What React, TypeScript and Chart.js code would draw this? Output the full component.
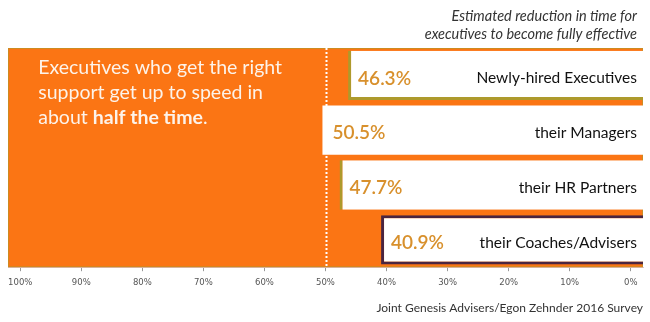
import React, { useEffect, useRef } from "react";
import { Chart, registerables } from "chart.js";

Chart.register(...registerables);

const CATEGORIES = [
  "Newly-hired Executives",
  "their Managers",
  "their HR Partners",
  "their Coaches/Advisers",
];
const REDUCTION = [46.3, 50.5, 47.7, 40.9];
const TICK_VALUES = [100, 90, 80, 70, 60, 50, 40, 30, 20, 10, 0];
const X_MIN = -2;
const X_MAX = 102;
const MARKER = 50;
const TITLE_LINES = ["Estimated reduction in time for", "executives to become fully effective"];
const SOURCE = "Joint Genesis Advisers/Egon Zehnder 2016 Survey";
const CALLOUT = [
  [{ t: "Executives who get the right", b: false }],
  [{ t: "support get up to speed in", b: false }],
  [
    { t: "about ", b: false },
    { t: "half the time", b: true },
    { t: ".", b: false },
  ],
];

const ORANGE = "#fb7514";
const OLIVE = "#ad9a2c";
const DARK = "#4a2540";
const VALUE_COLOR = "#d8902c";
const FONT = "Lato, 'Open Sans', sans-serif";

const BORDER_COLORS = [OLIVE, "rgba(0,0,0,0)", OLIVE, DARK];
const BORDER_WIDTHS = [
  { top: 0, bottom: 3, left: 3, right: 0 },
  { top: 0, bottom: 0, left: 0, right: 0 },
  { top: 0, bottom: 0, left: 3, right: 0 },
  { top: 3, bottom: 3, left: 3, right: 0 },
];

const backgroundPlugin = {
  id: "orangeBg",
  beforeDatasetsDraw(chart: any) {
    const { ctx, chartArea } = chart;
    ctx.save();
    ctx.fillStyle = ORANGE;
    ctx.fillRect(chartArea.left, chartArea.top, chartArea.right - chartArea.left, chartArea.bottom - chartArea.top);
    ctx.strokeStyle = "rgba(173,154,44,0.6)";
    ctx.lineWidth = 1;
    ctx.strokeRect(chartArea.left + 0.5, chartArea.top + 0.5, chartArea.right - chartArea.left - 1, chartArea.bottom - chartArea.top - 1);
    ctx.restore();
  },
};

const overlayPlugin = {
  id: "overlay",
  afterDatasetsDraw(chart: any) {
    const { ctx, chartArea, scales } = chart;
    const xs = scales.x;
    ctx.save();
    // dotted 50% marker
    const mx = Math.round(xs.getPixelForValue(MARKER)) + 0.5;
    ctx.strokeStyle = "#ffffff";
    ctx.lineWidth = 2;
    ctx.setLineDash([2, 2]);
    ctx.beginPath();
    ctx.moveTo(mx, chartArea.top);
    ctx.lineTo(mx, chartArea.bottom);
    ctx.stroke();
    ctx.setLineDash([]);

    // labels in white boxes
    const meta = chart.getDatasetMeta(0);
    meta.data.forEach((el: any, i: number) => {
      const y = el.y + 3;
      ctx.textBaseline = "middle";
      ctx.textAlign = "left";
      ctx.fillStyle = VALUE_COLOR;
      ctx.font = `600 19px ${FONT}`;
      ctx.fillText(REDUCTION[i].toFixed(1) + "%", xs.getPixelForValue(REDUCTION[i]) + 10, y);
      ctx.textAlign = "right";
      ctx.fillStyle = "#111111";
      ctx.font = `15.5px ${FONT}`;
      ctx.fillText(CATEGORIES[i], chartArea.right - 6, y);
    });

    // callout text
    ctx.textAlign = "left";
    ctx.textBaseline = "alphabetic";
    ctx.fillStyle = "#fdf3ea";
    const x0 = xs.getPixelForValue(100) + 18;
    CALLOUT.forEach((line, li) => {
      let x = x0;
      const y = chartArea.top + 26 + li * 25;
      line.forEach((seg) => {
        ctx.font = `${seg.b ? "bold " : ""}19.5px ${FONT}`;
        ctx.fillText(seg.t, x, y);
        x += ctx.measureText(seg.t).width;
      });
    });

    // heading (top right, italic)
    ctx.textAlign = "right";
    ctx.textBaseline = "middle";
    ctx.fillStyle = "#333333";
    ctx.font = `italic 14.5px ${FONT}`;
    TITLE_LINES.forEach((t, i) => {
      ctx.fillText(t, chartArea.right - 6, 16 + i * 18);
    });
    ctx.restore();
  },
};

export default function App() {
  const ref = useRef<HTMLCanvasElement | null>(null);
  useEffect(() => {
    document.body.style.margin = "0";
    if (!ref.current) return;
    const chart = new Chart(ref.current, {
      type: "bar",
      data: {
        labels: CATEGORIES,
        datasets: [
          {
            data: REDUCTION,
            base: X_MIN,
            backgroundColor: "#ffffff",
            borderColor: BORDER_COLORS,
            borderWidth: BORDER_WIDTHS as any,
            borderSkipped: false,
            barPercentage: 0.9,
            categoryPercentage: 1,
          } as any,
        ],
      },
      options: {
        indexAxis: "y",
        animation: false,
        responsive: true,
        maintainAspectRatio: false,
        layout: { padding: { left: 8, right: 7, top: 48, bottom: 0 } },
        plugins: {
          legend: { display: false },
          tooltip: { enabled: false },
          title: { display: false },
          subtitle: {
            display: true,
            text: SOURCE,
            position: "bottom",
            align: "end",
            color: "#333333",
            font: { family: FONT, size: 12, weight: "normal", lineHeight: 1.3 },
            padding: { top: 7, bottom: 6 },
          },
        },
        scales: {
          x: {
            type: "linear",
            reverse: true,
            min: X_MIN,
            max: X_MAX,
            afterBuildTicks: (scale: any) => {
              scale.ticks = TICK_VALUES.map((v) => ({ value: v }));
            },
            ticks: {
              callback: (v: any) => v + "%",
              color: "#555555",
              font: { family: "'DejaVu Sans', sans-serif", size: 8.5 },
              padding: 6,
              maxRotation: 0,
              autoSkip: false,
            },
            grid: {
              display: true,
              drawOnChartArea: false,
              drawTicks: true,
              tickLength: 4,
              color: "#999999",
            },
            border: { display: true, color: "#d9c6d0" },
          },
          y: {
            display: false,
          },
        },
      },
      plugins: [backgroundPlugin, overlayPlugin],
    });
    return () => chart.destroy();
  }, []);
  return (
    <div style={{ width: 650, height: 322, position: "relative", background: "#ffffff" }}>
      <canvas ref={ref} />
    </div>
  );
}
